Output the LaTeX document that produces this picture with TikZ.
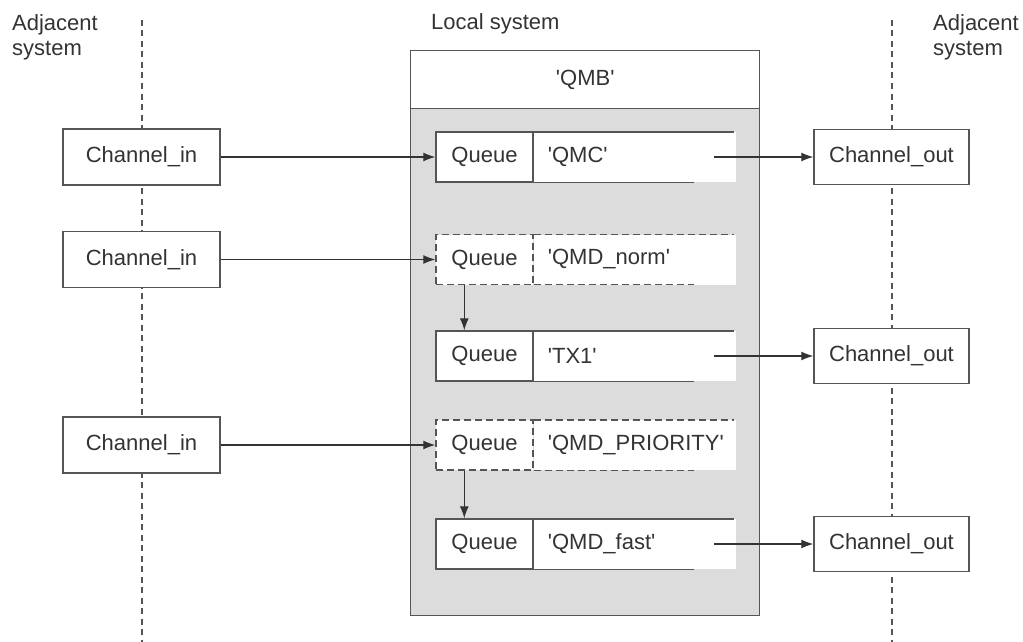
\documentclass[tikz,border=0pt]{standalone}
\usepackage{fontspec}
\setmainfont{Liberation Sans}
\usetikzlibrary{arrows.meta,positioning}
\usepackage{xcolor}
\definecolor{boxline}{HTML}{555555}
\definecolor{txt}{HTML}{333333}
\definecolor{localfill}{HTML}{DCDCDC}
\newcommand{\qt}{\textquotesingle}

\begin{document}
\begin{tikzpicture}[
  x=1pt, y=-1pt,
  font=\fontsize{22}{25}\selectfont, text=txt,
  chan/.style={draw=boxline, line width=1.4pt, fill=white, minimum width=157pt, minimum height=56pt, inner sep=0pt},
  qcell/.style={draw=boxline, line width=1.4pt, fill=white, minimum width=97pt, minimum height=50pt, inner sep=0pt},
  qname/.style={fill=white, minimum height=50pt, text width=174pt, inner xsep=14pt, inner ysep=0pt, align=left, anchor=west},
  qline/.style={draw=boxline, line width=1.4pt},
  dashq/.style={dash pattern=on 7pt off 4pt},
  sysline/.style={draw=boxline, line width=1.2pt, dash pattern=on 6pt off 4.5pt},
  arrow/.style={-{Latex[length=12pt,width=9pt]}, draw=black!80, line width=1.2pt}
]
\useasboundingbox (0,0) rectangle (1023,642);

% system borders
\coordinate (ltop) at (142,20);
\coordinate (lbot) at (142,642);
\coordinate (rtop) at (892,20);
\coordinate (rbot) at (892,642);
\draw[sysline] (ltop) -- (lbot);
\draw[sysline] (rtop) -- (rbot);

\node[anchor=north west, inner sep=0pt, align=left] (adjl) at (12,14) {Adjacent\\system};
\node[anchor=north west, inner sep=0pt, align=left] (adjr) at (933,14) {Adjacent\\system};
\node[anchor=base west, inner sep=0pt] (locallbl) at (431,30) {Local system};

% local queue manager
\node[draw=boxline, line width=1.4pt, fill=localfill, minimum width=349pt, minimum height=565pt, anchor=north west] (local) at (410,50) {};
\node[draw=boxline, line width=1.4pt, fill=white, minimum width=349pt, minimum height=58pt, anchor=north west] (qmb) at (410,50) {\qt QMB\qt};

% queues
\node[qcell] (q1cell) at (484.5,157) {Queue};
\node[qname] (q1) at (q1cell.east) {\qt QMC\qt};
\draw[qline] (q1.north west) -- ([xshift=-2pt]q1.north east);
\draw[qline] (q1.south west) -- ([xshift=-42pt]q1.south east);

\node[qcell, dashq] (q2cell) at (484.5,259.5) {Queue};
\node[qname] (q2) at (q2cell.east) {\qt QMD\_norm\qt};
\draw[qline, dashq] (q2.north west) -- ([xshift=-2pt]q2.north east);
\draw[qline, dashq] (q2.south west) -- ([xshift=-42pt]q2.south east);

\node[qcell] (q3cell) at (484.5,356) {Queue};
\node[qname] (q3) at (q3cell.east) {\qt TX1\qt};
\draw[qline] (q3.north west) -- ([xshift=-2pt]q3.north east);
\draw[qline] (q3.south west) -- ([xshift=-42pt]q3.south east);

\node[qcell, dashq] (q4cell) at (484.5,445) {Queue};
\node[qname] (q4) at (q4cell.east) {\qt QMD\_PRIORITY\qt};
\draw[qline, dashq] (q4.north west) -- ([xshift=-2pt]q4.north east);
\draw[qline, dashq] (q4.south west) -- ([xshift=-42pt]q4.south east);

\node[qcell] (q5cell) at (484.5,544) {Queue};
\node[qname] (q5) at (q5cell.east) {\qt QMD\_fast\qt};
\draw[qline] (q5.north west) -- ([xshift=-2pt]q5.north east);
\draw[qline] (q5.south west) -- ([xshift=-42pt]q5.south east);

% channels
\node[chan] (cin1) at (141.5,157) {Channel\_in};
\node[chan] (cin2) at (141.5,259.5) {Channel\_in};
\node[chan] (cin3) at (141.5,445) {Channel\_in};

\node[chan, minimum width=155pt, minimum height=55pt] (cout1) at (891.5,157) {Channel\_out};
\node[chan, minimum width=155pt, minimum height=55pt] (cout2) at (891.5,356) {Channel\_out};
\node[chan, minimum width=155pt, minimum height=55pt] (cout3) at (891.5,544) {Channel\_out};

% flows
\draw[arrow] (cin1.east) -- (q1cell.west);
\draw[arrow] (cin2.east) -- (q2cell.west);
\draw[arrow] (cin3.east) -- (q4cell.west);

\draw[arrow] ([xshift=29pt]q2cell.south west) -- ([xshift=29pt]q3cell.north west);
\draw[arrow] ([xshift=29pt]q4cell.south west) -- ([xshift=29pt]q5cell.north west);

\draw[arrow] ([xshift=-22pt]q1.east) -- (cout1.west |- q1.east);
\draw[arrow] ([xshift=-22pt]q3.east) -- (cout2.west |- q3.east);
\draw[arrow] ([xshift=-22pt]q5.east) -- (cout3.west |- q5.east);

\end{tikzpicture}
\end{document}
